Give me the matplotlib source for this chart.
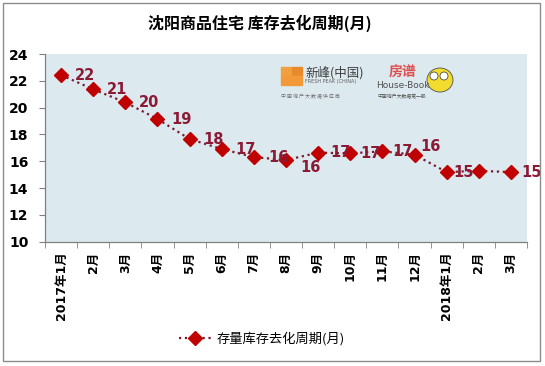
import matplotlib.pyplot as plt
from matplotlib.patches import Rectangle, Ellipse

# data
months = ['2017年1月', '2月', '3月', '4月', '5月', '6月', '7月', '8月', '9月',
          '10月', '11月', '12月', '2018年1月', '2月', '3月']
cycle = [22.43, 21.37, 20.39, 19.15, 17.66, 16.91, 16.31, 16.09, 16.64,
         16.59, 16.74, 16.49, 15.19, 15.29, 15.19]
point_labels = ['22', '21', '20', '19', '18', '17', '16', '16', '17',
                '17', '17', '16', '15', '', '15']
# label offsets in pixels (dx, dy)
label_offsets = [(14, 0), (14, 0), (14, 0), (14, 0), (14, 0), (14, 0), (14, 0),
                 (14, -7), (12, 0), (10, 0), (10, 0), (6, 8), (7, 0), (0, 0), (10, 0)]

series_name = '存量库存去化周期(月)'
title = '沈阳商品住宅 库存去化周期(月)'

plt.rcParams['font.family'] = ['DejaVu Sans', 'Noto Sans CJK SC']

fig = plt.figure(figsize=(5.45, 3.66), dpi=100)
fig.patch.set_facecolor('white')

# outer chart border
fig.patches.append(Rectangle((3 / 545, 1 - 361 / 366), 537 / 545, 358 / 366,
                             transform=fig.transFigure, fill=False,
                             edgecolor='#8c8c8c', linewidth=1.0))

ax = fig.add_axes([45 / 545, 1 - 241.7 / 366, 482 / 545, 187.7 / 366])
ax.set_facecolor('#dce9ef')

x = list(range(len(months)))
ax.plot(x, cycle, linestyle=':', color='#7a1c2c', linewidth=1.6,
        marker='D', markersize=7, markerfacecolor='#c00000',
        markeredgecolor='#c00000', label=series_name)

for i, (v, lab) in enumerate(zip(cycle, point_labels)):
    if not lab:
        continue
    dx, dy = label_offsets[i]
    ax.annotate(lab, (i, v), xytext=(dx, dy), textcoords='offset pixels',
                ha='left', va='center', fontsize=10.5, fontweight='bold',
                color='#8b1a35')

ax.set_xlim(-0.5, len(months) - 0.5)
ax.set_ylim(10, 24)
ax.set_yticks(range(10, 25, 2))
ax.set_xticks(x)
ax.set_xticklabels(months, rotation=90, fontsize=9, fontweight='bold')
ax.set_xticks([i - 0.5 for i in range(len(months) + 1)], minor=True)
ax.tick_params(axis='x', which='major', length=0, pad=7)
ax.tick_params(axis='x', which='minor', length=4, color='#808080')
ax.tick_params(axis='y', length=4, color='#808080', pad=8)
for lab in ax.get_yticklabels():
    lab.set_fontsize(10)
    lab.set_fontweight('bold')

for side in ['top', 'right']:
    ax.spines[side].set_visible(False)
for side in ['left', 'bottom']:
    ax.spines[side].set_color('#808080')
    ax.spines[side].set_linewidth(0.9)

fig.text(260 / 545, 1 - 23 / 366, title, ha='center', va='center',
         fontsize=11.5, fontweight='bold', family=['Noto Sans CJK SC'])

# logos (rough stand-ins)
ax_logo = fig.add_axes([0, 0, 1, 1], facecolor='none')
ax_logo.set_xlim(0, 545)
ax_logo.set_ylim(366, 0)
ax_logo.axis('off')
ax_logo.add_patch(Rectangle((281, 67), 10, 8, color='#f0a040'))
ax_logo.add_patch(Rectangle((292, 67), 10, 8, color='#e88a2a'))
ax_logo.add_patch(Rectangle((281, 76), 21, 9, color='#f29a3a'))
ax_logo.text(305, 73, '新峰(中国)', fontsize=9, family=['Noto Sans CJK SC'],
             color='#404040', va='center', ha='left')
ax_logo.text(305, 82, 'FRESH PEAK (CHINA)', fontsize=3.5, color='#606060',
             va='center', ha='left')
ax_logo.text(281, 97, '中 国 地 产 大 数 据 供 应 商', fontsize=3.5,
             family=['Noto Sans CJK SC'], color='#707070', va='center', ha='left')
ax_logo.text(403, 73, '房谱', fontsize=10, family=['Noto Sans CJK SC'],
             color='#e05050', va='center', ha='center', fontweight='bold')
ax_logo.text(403, 86, 'House-Book', fontsize=6.5, color='#505050',
             va='center', ha='center')
ax_logo.text(402, 97, '中国地产大数据第一股', fontsize=3.5,
             family=['Noto Sans CJK SC'], color='#505050', va='center', ha='center')
ax_logo.add_patch(Ellipse((440, 80), 26, 24, facecolor='#f2dc30',
                          edgecolor='#505050', linewidth=0.6))
ax_logo.add_patch(Ellipse((434, 76), 8, 8, facecolor='white', edgecolor='#303030',
                          linewidth=0.5))
ax_logo.add_patch(Ellipse((444, 76), 8, 8, facecolor='white', edgecolor='#303030',
                          linewidth=0.5))

fig.legend(loc='center', bbox_to_anchor=(262 / 545, 1 - 339 / 366),
           frameon=False, handlelength=2.4, handletextpad=0.4,
           prop={'family': ['Noto Sans CJK SC'], 'size': 9.5})

fig.savefig('out.png', dpi=100)
